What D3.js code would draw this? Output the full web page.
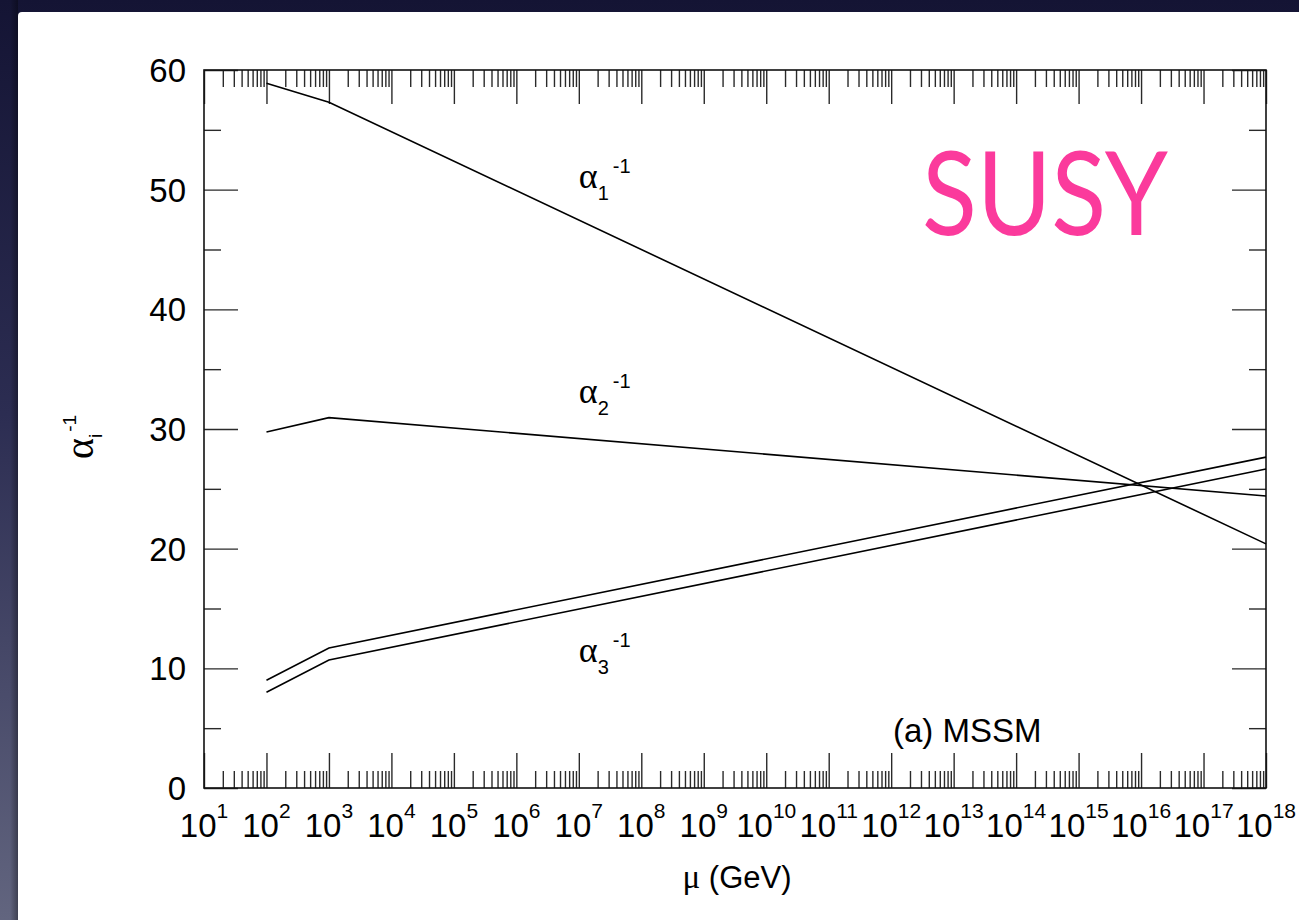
<!DOCTYPE html>
<html>
<head>
<meta charset="utf-8">
<script src="https://cdn.jsdelivr.net/npm/d3@7"></script>
<style>
  html, body { margin: 0; padding: 0; background: #15163a; }
  svg { display: block; }
</style>
</head>
<body>
<svg id="chart" width="1299" height="920"></svg>
<script>
// Running inverse gauge couplings in the MSSM (one-loop, piecewise in log mu)
const muPoints = [1e2, 1e3, 1e18];              // GeV
const alpha1Inv = [58.9, 57.3, 20.4];
const alpha2Inv = [29.75, 30.95, 24.4];
const alpha3InvUpper = [9.0, 11.7, 27.65];
const alpha3InvLower = [8.0, 10.7, 26.65];

const xDecades = d3.range(1, 19);              // exponents 10^1 .. 10^18
const yMajorTicks = [0, 10, 20, 30, 40, 50, 60];
const yMinorTicks = [5, 15, 25, 35, 45, 55];

const curveLabels = [
  { sub: "1", mu: 1e7, val: 50.1 },
  { sub: "2", mu: 1e7, val: 32.2 },
  { sub: "3", mu: 1e7, val: 10.5 }
];

const svg = d3.select("#chart");
const W = 1299, H = 920;

// slide background
const defs = svg.append("defs");
const bg = defs.append("linearGradient").attr("id", "bg").attr("x1", 0).attr("y1", 0).attr("x2", 0).attr("y2", 1);
bg.append("stop").attr("offset", "0%").attr("stop-color", "#141434");
bg.append("stop").attr("offset", "45%").attr("stop-color", "#2c2d52");
bg.append("stop").attr("offset", "100%").attr("stop-color", "#62657f");
const edge = defs.append("linearGradient").attr("id", "edge").attr("x1", 0).attr("y1", 0).attr("x2", 1).attr("y2", 0);
edge.append("stop").attr("offset", "0%").attr("stop-color", "#000").attr("stop-opacity", 0);
edge.append("stop").attr("offset", "100%").attr("stop-color", "#000").attr("stop-opacity", 0.35);

svg.append("rect").attr("width", W).attr("height", H).attr("fill", "url(#bg)");
svg.append("rect").attr("x", 10).attr("y", 0).attr("width", 8).attr("height", H).attr("fill", "url(#edge)");
svg.append("rect").attr("x", 18).attr("y", 12).attr("width", W).attr("height", H)
  .attr("rx", 4).attr("fill", "#ffffff");

// plot frame
const plotLeft = 204, plotRight = 1266, plotTop = 70, plotBottom = 788;
const x = d3.scaleLog().domain([1e1, 1e18]).range([plotLeft, plotRight]);
const y = d3.scaleLinear().domain([0, 60]).range([plotBottom, plotTop]);

const g = svg.append("g");
const tickColor = "#2a2a2a";

// minor x ticks: 2..9 x 10^k
const xMinor = [];
for (let k = 1; k < 18; k++) for (let m = 2; m <= 9; m++) xMinor.push(m * Math.pow(10, k));
const xMajor = xDecades.map(e => Math.pow(10, e));

function styleAxis(sel) {
  sel.select(".domain").remove();
  sel.selectAll(".tick line").attr("stroke", tickColor).attr("stroke-width", 1.4);
}

g.append("g").attr("transform", `translate(0,${plotBottom})`)
  .call(d3.axisBottom(x).tickValues(xMinor).tickSize(-17).tickFormat(""))
  .call(styleAxis);
g.append("g").attr("transform", `translate(0,${plotBottom})`)
  .call(d3.axisBottom(x).tickValues(xMajor).tickSize(-35).tickFormat(""))
  .call(styleAxis);
g.append("g").attr("transform", `translate(0,${plotTop})`)
  .call(d3.axisTop(x).tickValues(xMinor).tickSize(-17).tickFormat(""))
  .call(styleAxis);
g.append("g").attr("transform", `translate(0,${plotTop})`)
  .call(d3.axisTop(x).tickValues(xMajor).tickSize(-34).tickFormat(""))
  .call(styleAxis);

g.append("g").attr("transform", `translate(${plotLeft},0)`)
  .call(d3.axisLeft(y).tickValues(yMajorTicks).tickSize(-34).tickFormat(""))
  .call(styleAxis);
g.append("g").attr("transform", `translate(${plotLeft},0)`)
  .call(d3.axisLeft(y).tickValues(yMinorTicks).tickSize(-17).tickFormat(""))
  .call(styleAxis);
g.append("g").attr("transform", `translate(${plotRight},0)`)
  .call(d3.axisRight(y).tickValues(yMajorTicks).tickSize(-34).tickFormat(""))
  .call(styleAxis);
g.append("g").attr("transform", `translate(${plotRight},0)`)
  .call(d3.axisRight(y).tickValues(yMinorTicks).tickSize(-17).tickFormat(""))
  .call(styleAxis);

g.append("rect").attr("x", plotLeft).attr("y", plotTop)
  .attr("width", plotRight - plotLeft).attr("height", plotBottom - plotTop)
  .attr("fill", "none").attr("stroke", "#111").attr("stroke-width", 1.6);

const labelFont = "Liberation Sans, Arial, Helvetica, sans-serif";
const greekFont = "Liberation Serif, Times New Roman, serif";

// y tick labels
g.append("g").selectAll("text").data(yMajorTicks).join("text")
  .attr("x", plotLeft - 18).attr("y", d => y(d)).attr("dy", "0.36em")
  .attr("text-anchor", "end")
  .attr("font-family", labelFont).attr("font-size", 33).attr("fill", "#000")
  .text(d => d);

// x tick labels 10^n
const xl = g.append("g").selectAll("text").data(xDecades).join("text")
  .attr("x", d => x(Math.pow(10, d))).attr("y", plotBottom + 49)
  .attr("text-anchor", "middle")
  .attr("font-family", labelFont).attr("font-size", 33).attr("fill", "#000");
xl.append("tspan").text("10");
xl.append("tspan").attr("font-size", 21).attr("dy", -19).text(d => d);

// axis titles
const xt = g.append("text").attr("x", 737).attr("y", 888).attr("text-anchor", "middle")
  .attr("font-family", labelFont).attr("font-size", 31).attr("fill", "#000");
xt.append("tspan").attr("font-family", greekFont).attr("font-size", 33).text("μ");
xt.append("tspan").text(" (GeV)");

const yt = g.append("text").attr("transform", "translate(93,459) rotate(-90)")
  .attr("font-family", labelFont).attr("fill", "#000");
yt.append("tspan").attr("font-family", greekFont).attr("font-size", 40).text("α");
yt.append("tspan").attr("font-size", 19).attr("dy", 9).text("i");
yt.append("tspan").attr("font-size", 19).attr("dy", -26).attr("dx", 2).text("-1");

// coupling curves
const line = d3.line().x(d => x(d[0])).y(d => y(d[1]));
const series = [alpha1Inv, alpha2Inv, alpha3InvUpper, alpha3InvLower];
g.append("g").selectAll("path").data(series).join("path")
  .attr("d", s => line(muPoints.map((m, i) => [m, s[i]])))
  .attr("fill", "none").attr("stroke", "#000").attr("stroke-width", 1.6);

// curve labels
const cl = g.append("g").selectAll("text").data(curveLabels).join("text")
  .attr("x", d => x(d.mu)).attr("y", d => y(d.val))
  .attr("font-family", labelFont).attr("fill", "#000");
cl.append("tspan").attr("font-family", greekFont).attr("font-size", 36).text("α");
cl.append("tspan").attr("font-size", 20).attr("dy", 12).text(d => d.sub);
cl.append("tspan").attr("font-size", 20).attr("dy", -27).attr("dx", 4).text("-1");

// model annotation
g.append("text").attr("x", 893).attr("y", 742)
  .attr("font-family", labelFont).attr("font-size", 33).attr("fill", "#000")
  .text("(a) MSSM");

g.append("text").attr("x", 922).attr("y", 235)
  .attr("font-family", "Lato, Open Sans, sans-serif").attr("font-size", 116)
  .attr("textLength", 246).attr("lengthAdjust", "spacingAndGlyphs")
  .attr("fill", "#fb3a9c")
  .text("SUSY");
</script>
</body>
</html>
